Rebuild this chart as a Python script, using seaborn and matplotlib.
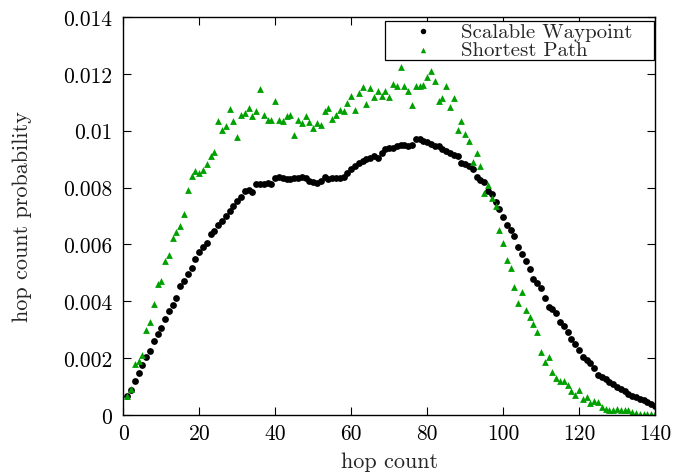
import numpy as np
import pandas as pd
import matplotlib
matplotlib.use("Agg")
import matplotlib.pyplot as plt
import seaborn as sns

# hop counts 1..140
hops = list(range(1, 141))

scalable_waypoint = [
    0.00068, 0.00089, 0.00120, 0.00148, 0.00177, 0.00203, 0.00226, 0.00260, 0.00284, 0.00307,
    0.00339, 0.00365, 0.00388, 0.00413, 0.00452, 0.00473, 0.00497, 0.00517, 0.00548, 0.00575,
    0.00592, 0.00605, 0.00638, 0.00648, 0.00669, 0.00681, 0.00700, 0.00718, 0.00736, 0.00753,
    0.00766, 0.00788, 0.00790, 0.00783, 0.00813, 0.00813, 0.00812, 0.00815, 0.00813, 0.00835,
    0.00836, 0.00833, 0.00830, 0.00830, 0.00832, 0.00834, 0.00838, 0.00833, 0.00822, 0.00818,
    0.00816, 0.00824, 0.00836, 0.00830, 0.00835, 0.00832, 0.00834, 0.00836, 0.00850, 0.00865,
    0.00877, 0.00885, 0.00892, 0.00900, 0.00905, 0.00912, 0.00905, 0.00922, 0.00936, 0.00938,
    0.00940, 0.00945, 0.00948, 0.00950, 0.00945, 0.00950, 0.00970, 0.00970, 0.00965, 0.00962,
    0.00952, 0.00947, 0.00945, 0.00936, 0.00930, 0.00922, 0.00915, 0.00910, 0.00886, 0.00882,
    0.00875, 0.00865, 0.00838, 0.00828, 0.00820, 0.00789, 0.00777, 0.00750, 0.00725, 0.00698,
    0.00668, 0.00650, 0.00630, 0.00590, 0.00565, 0.00540, 0.00512, 0.00478, 0.00463, 0.00446,
    0.00411, 0.00380, 0.00372, 0.00359, 0.00328, 0.00312, 0.00291, 0.00267, 0.00250, 0.00229,
    0.00205, 0.00193, 0.00182, 0.00164, 0.00142, 0.00133, 0.00125, 0.00117, 0.00108, 0.00098,
    0.00090, 0.00083, 0.00075, 0.00068, 0.00063, 0.00058, 0.00052, 0.00046, 0.00040, 0.00031,
]

shortest_path = [
    0.00068, 0.00092, 0.00180, 0.00190, 0.00210, 0.00300, 0.00327, 0.00390, 0.00460, 0.00470,
    0.00543, 0.00563, 0.00624, 0.00643, 0.00666, 0.00707, 0.00793, 0.00840, 0.00860, 0.00850,
    0.00862, 0.00883, 0.00912, 0.00924, 0.01033, 0.01004, 0.01015, 0.01076, 0.01035, 0.00979,
    0.01056, 0.01062, 0.01080, 0.01051, 0.01068, 0.01147, 0.01055, 0.01038, 0.01039, 0.01103,
    0.01039, 0.01034, 0.01053, 0.01056, 0.00986, 0.01039, 0.01026, 0.01051, 0.01030, 0.01008,
    0.01026, 0.01020, 0.01070, 0.01080, 0.01041, 0.01056, 0.01074, 0.01070, 0.01096, 0.01121,
    0.01073, 0.01133, 0.01153, 0.01093, 0.01149, 0.01120, 0.01141, 0.01123, 0.01139, 0.01117,
    0.01164, 0.01156, 0.01225, 0.01156, 0.01140, 0.01092, 0.01156, 0.01158, 0.01162, 0.01190,
    0.01209, 0.01176, 0.01105, 0.01115, 0.01156, 0.01082, 0.01114, 0.01004, 0.01033, 0.00988,
    0.00963, 0.00891, 0.00920, 0.00877, 0.00780, 0.00810, 0.00763, 0.00736, 0.00651, 0.00604,
    0.00546, 0.00516, 0.00449, 0.00394, 0.00431, 0.00370, 0.00346, 0.00320, 0.00293, 0.00220,
    0.00188, 0.00203, 0.00152, 0.00129, 0.00121, 0.00121, 0.00105, 0.00084, 0.00071, 0.00087,
    0.00056, 0.00062, 0.00043, 0.00048, 0.00046, 0.00027, 0.00022, 0.00018, 0.00019, 0.00020,
    0.00019, 0.00019, 0.00017, 0.00010, 0.00007, 0.00005, 0.00004, 0.00004, 0.00004, 0.00003,
]

x_ticks = [0, 20, 40, 60, 80, 100, 120, 140]
y_ticks = [0, 0.002, 0.004, 0.006, 0.008, 0.01, 0.012, 0.014]
y_tick_labels = ["0", "0.002", "0.004", "0.006", "0.008", "0.01", "0.012", "0.014"]

sns.set_style("ticks")
plt.rcParams["font.family"] = ["cmr10", "DejaVu Serif"]
plt.rcParams["axes.formatter.use_mathtext"] = True

fig = plt.figure(figsize=(6.78, 4.77), dpi=100)
ax = fig.add_axes([0.1819, 0.1279, 0.9661 - 0.1819, 0.9623 - 0.1279])

sw = pd.DataFrame({"hops": hops, "p": scalable_waypoint})
sp = pd.DataFrame({"hops": hops, "p": shortest_path})

sns.scatterplot(data=sw, x="hops", y="p", ax=ax, color="black", marker="o",
                s=24, linewidth=0, label="Scalable Waypoint")
sns.scatterplot(data=sp, x="hops", y="p", ax=ax, color="#00a000", marker="^",
                s=24, linewidth=0, label="Shortest Path")

ax.set_xlim(0, 140)
ax.set_ylim(0, 0.014)
ax.set_xticks(x_ticks)
ax.set_xticklabels([str(t) for t in x_ticks])
ax.set_yticks(y_ticks)
ax.set_yticklabels(y_tick_labels)
ax.tick_params(direction="in", top=True, right=True, length=6, width=0.8,
               labelsize=15.5, colors="black")
ax.tick_params(axis="x", pad=6)
ax.tick_params(axis="y", pad=8)
for sp_ in ax.spines.values():
    sp_.set_visible(True)
    sp_.set_linewidth(1.0)
    sp_.set_color("black")

ax.set_xlabel("hop count", fontsize=16, labelpad=6)
ax.set_ylabel("hop count probability", fontsize=16, labelpad=22)

leg = ax.legend(loc="upper left", bbox_to_anchor=(0.492, 0.0, 0.506, 0.99),
                mode="expand", frameon=True, fancybox=False, edgecolor="black",
                framealpha=1, fontsize=15, borderpad=0.05, labelspacing=0.0,
                handletextpad=0.0, handlelength=3.6, borderaxespad=0.0,
                markerscale=0.8)
leg.get_frame().set_linewidth(0.9)

fig.savefig("out.png", dpi=100)
